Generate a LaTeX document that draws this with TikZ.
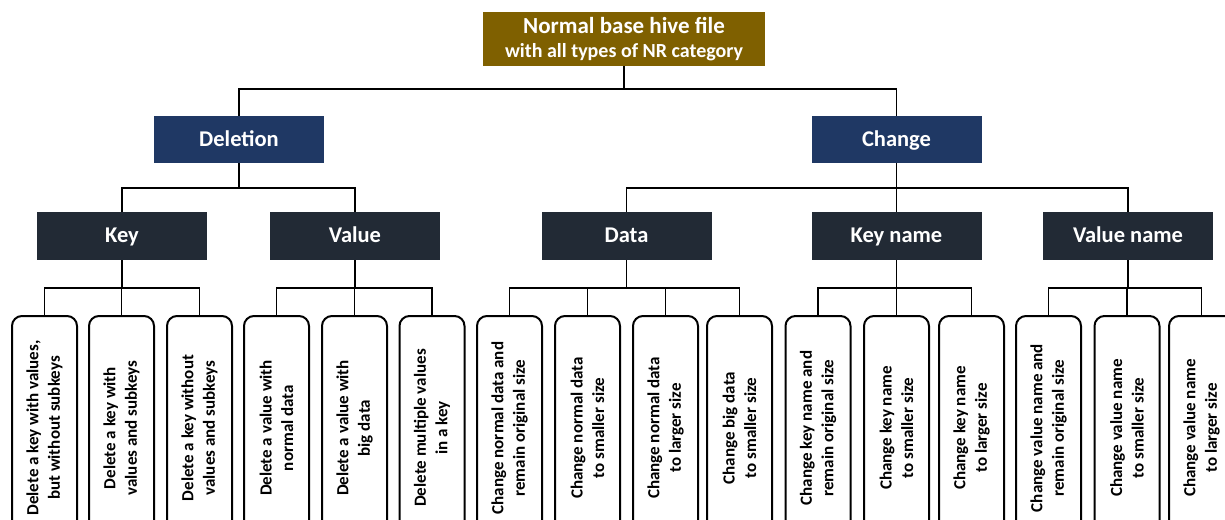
\documentclass[tikz,border=0pt]{standalone}
\usepackage{fontspec}
\setmainfont{Carlito}
\definecolor{titlebrown}{HTML}{7F6000}
\definecolor{navy}{HTML}{1F3864}
\definecolor{darkslate}{HTML}{222A35}
\begin{document}
\begin{tikzpicture}[x=1pt,y=-1pt,
  topbox/.style={fill=titlebrown,text=white,font=\fontsize{20}{24}\selectfont\bfseries,minimum width=282pt,minimum height=54pt,align=center,inner sep=0pt},
  catbox/.style={fill=navy,text=white,font=\fontsize{22.5}{26}\selectfont\bfseries,minimum width=170pt,minimum height=47pt,inner sep=0pt,text height=16pt,text depth=3pt},
  subbox/.style={fill=darkslate,text=white,font=\fontsize{22.5}{26}\selectfont\bfseries,minimum width=170pt,minimum height=48pt,inner sep=0pt,text height=16pt,text depth=3pt},
  leaf/.style={draw=black,line width=2pt,rounded corners=10pt,rotate=90,minimum width=224pt,minimum height=65pt,inner sep=0pt,align=center,font=\fontsize{17}{21.5}\selectfont\bfseries},
  conn/.style={draw=black,line width=1.3pt}]
\useasboundingbox (0,0) rectangle (1225,519);
\clip (0,0) rectangle (1225,519);
\fill[white] (0,0) rectangle (1225,519);

\node[topbox] (root) at (624,39) {{\fontsize{23}{24}\selectfont Normal base hive file}\\ with all types of NR category};

\node[catbox] (del) at (239,139.5) {Deletion};
\node[catbox] (chg) at (896.5,139.5) {Change};

\node[subbox] (key) at (122,236) {Key};
\node[subbox] (val) at (355,236) {Value};
\node[subbox] (dat) at (626.5,236) {Data};
\node[subbox] (kn) at (896.5,236) {Key name};
\node[subbox] (vn) at (1128,236) {Value name};

\node[leaf] (l1) at (44.5,428) {Delete a key with values,\\but without subkeys};
\node[leaf] (l2) at (121.5,428) {Delete a key with\\values and subkeys};
\node[leaf] (l3) at (199.5,428) {Delete a key without\\values and subkeys};
\node[leaf] (l4) at (276.5,428) {Delete a value with\\normal data};
\node[leaf] (l5) at (354.5,428) {Delete a value with\\big data};
\node[leaf] (l6) at (432,428) {Delete multiple values\\in a key};
\node[leaf] (l7) at (509.5,428) {Change normal data and\\remain original size};
\node[leaf] (l8) at (587.5,428) {Change normal data\\to smaller size};
\node[leaf] (l9) at (665.5,428) {Change normal data\\to larger size};
\node[leaf] (l10) at (739.5,428) {Change big data\\to smaller size};
\node[leaf] (l11) at (818,428) {Change key name and\\remain original size};
\node[leaf] (l12) at (896.5,428) {Change  key name\\to smaller size};
\node[leaf] (l13) at (971.5,428) {Change  key name\\to larger size};
\node[leaf] (l14) at (1048.5,428) {Change value name and\\remain original size};
\node[leaf] (l15) at (1127,428) {Change value name\\to smaller size};
\node[leaf] (l16) at (1201.5,428) {Change value name\\to larger size};

\coordinate (busA) at (0,89);
\coordinate (busB) at (0,188);
\coordinate (busC) at (0,288);

\foreach \c in {del,chg} \draw[conn] (root.south) -- (root.south |- busA) -| (\c.north);
\foreach \c in {key,val} \draw[conn] (del.south) -- (del.south |- busB) -| (\c.north);
\foreach \c in {dat,kn,vn} \draw[conn] (chg.south) -- (chg.south |- busB) -| (\c.north);
\foreach \c in {l1,l2,l3} \draw[conn] (key.south) -- (key.south |- busC) -| (\c.east);
\foreach \c in {l4,l5,l6} \draw[conn] (val.south) -- (val.south |- busC) -| (\c.east);
\foreach \c in {l7,l8,l9,l10} \draw[conn] (dat.south) -- (dat.south |- busC) -| (\c.east);
\foreach \c in {l11,l12,l13} \draw[conn] (kn.south) -- (kn.south |- busC) -| (\c.east);
\foreach \c in {l14,l15,l16} \draw[conn] (vn.south) -- (vn.south |- busC) -| (\c.east);
\end{tikzpicture}
\end{document}
